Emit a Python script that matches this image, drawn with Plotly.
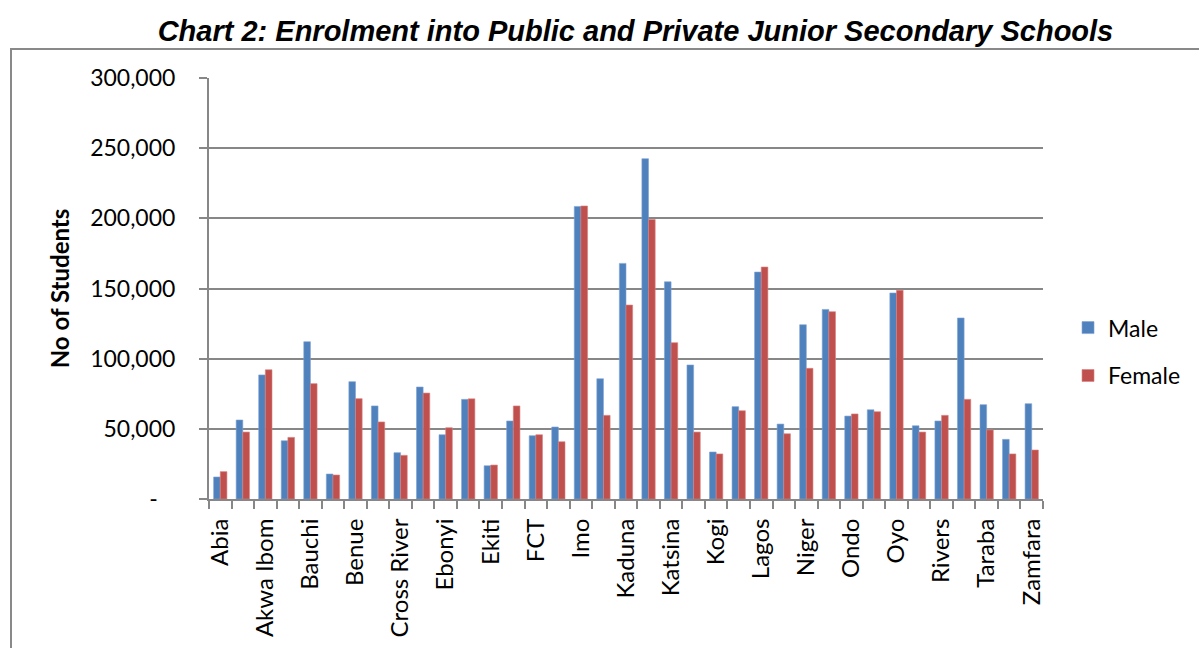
import plotly.graph_objects as go

states = ["Abia", "Adamawa", "Akwa Ibom", "Anambra", "Bauchi", "Bayelsa", "Benue", "Borno",
          "Cross River", "Delta", "Ebonyi", "Edo", "Ekiti", "Enugu", "FCT", "Gombe", "Imo",
          "Jigawa", "Kaduna", "Kano", "Katsina", "Kebbi", "Kogi", "Kwara", "Lagos", "Nasarawa",
          "Niger", "Ogun", "Ondo", "Osun", "Oyo", "Plateau", "Rivers", "Sokoto", "Taraba",
          "Yobe", "Zamfara"]

male = [15700, 56300, 88400, 41500, 112100, 17800, 83600, 66300,
        33000, 79800, 45800, 71000, 23700, 55600, 45100, 51300, 208500,
        85700, 167900, 242500, 154800, 95500, 33500, 65800, 161700, 53400,
        124200, 135100, 59100, 63600, 146800, 52200, 55600, 129000, 67200,
        42500, 67900]

female = [19500, 47700, 92100, 43900, 82200, 17100, 71500, 54900,
          31100, 75500, 50800, 71400, 24200, 66300, 45800, 40800, 208800,
          59600, 138200, 199200, 111400, 47700, 32100, 62900, 165300, 46500,
          93100, 133500, 60600, 62200, 148700, 47700, 59600, 71000, 49200,
          32100, 34900]

tick_text = [s if i % 2 == 0 else "" for i, s in enumerate(states)]
y_vals = [0, 50000, 100000, 150000, 200000, 250000, 300000]
y_text = ["-\u00a0\u00a0\u00a0", "50,000", "100,000", "150,000", "200,000", "250,000", "300,000"]

FONT = "Lato, Calibri, sans-serif"
GRID = "#878787"

fig = go.Figure()
fig.add_trace(go.Bar(x=states, y=male, name="Male", legendgroup="m",
                     marker=dict(color="#4F81BD", line=dict(color="#7FA3D3", width=0.6))))
fig.add_trace(go.Bar(x=states, y=female, name="Female", legendgroup="f",
                     marker=dict(color="#C0504D", line=dict(color="#D88280", width=0.6))))

fig.update_layout(
    width=1199, height=648,
    margin=dict(l=209, r=156, t=78, b=149, autoexpand=False),
    paper_bgcolor="white", plot_bgcolor="white",
    barmode="group", bargap=0.41, bargroupgap=0,
    font=dict(family=FONT, size=22, color="black"),
    title=dict(text="<b><i>Chart 2: Enrolment into Public and Private Junior Secondary Schools</i></b>",
               font=dict(family="Liberation Sans, Arial, sans-serif", size=29, color="black"),
               x=0.53, xanchor="center", y=0.953, yanchor="middle"),
    legend=dict(x=1.03, xanchor="left", y=0.35, yanchor="middle",
                font=dict(family=FONT, size=23), traceorder="grouped", tracegroupgap=15,
                bgcolor="rgba(0,0,0,0)"),
    xaxis=dict(type="category", tickmode="array", tickvals=states, ticktext=tick_text,
               tickangle=-90, tickson="boundaries", ticks="outside", ticklen=8, tickwidth=2,
               tickcolor=GRID, showline=True, linecolor=GRID, linewidth=2, showgrid=False,
               ticklabelstandoff=8, tickfont=dict(family=FONT, size=24)),
    yaxis=dict(range=[0, 300000], tickmode="array", tickvals=y_vals, ticktext=y_text,
               ticks="outside", ticklen=8, tickwidth=2, tickcolor=GRID,
               showline=True, linecolor=GRID, linewidth=2,
               showgrid=True, gridcolor=GRID, gridwidth=2, zeroline=False,
               ticklabelstandoff=19, tickfont=dict(family=FONT, size=23),
               title=dict(text="<b>No of Students</b>", font=dict(family=FONT, size=24), standoff=14)),
    shapes=[dict(type="rect", xref="paper", yref="paper",
                 x0=(11 - 209) / 834, x1=1.3, y0=-0.6, y1=(499 - 49) / 421,
                 line=dict(color="#898989", width=2), fillcolor="rgba(0,0,0,0)", layer="below")],
)

fig.write_html("out.html")
